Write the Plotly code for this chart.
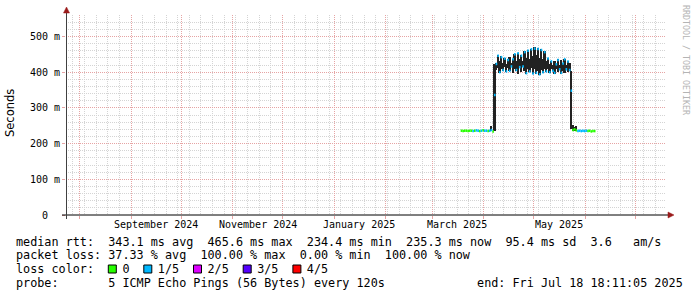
import numpy as np
import pandas as pd
import plotly.graph_objects as go

# ---------------- data (milliseconds) ----------------
dates = pd.date_range("2025-03-18", periods=81, freq="D")

median_low1 = [236, 235, 236, 236, 235, 236, 236, 235, 236, 237,
               236, 235, 236, 237, 236, 236, 235, 236, 238, 234]
class_low1 = [0, 0, 0, 0, 0, 0, 0, 1, 0, 1, 1, 0, 1, 0, 1, 1, 0, 1, 1, 0]

median_high = [423, 446, 400, 442, 406, 438, 402, 434, 404, 416,
               436, 450, 406, 453, 414, 446, 416, 456, 397, 460,
               402, 464, 396, 466, 398, 465, 394, 462, 400, 456,
               402, 438, 400, 430, 404, 398, 422, 434, 408, 398,
               424, 436, 408, 430, 406]
smoke_hi_high = [425, 448, 430, 444, 426, 440, 424, 436, 442, 425,
                 438, 452, 432, 455, 436, 448, 430, 458, 440, 462,
                 438, 466, 445, 471, 448, 468, 440, 464, 436, 458,
                 430, 440, 422, 432, 420, 430, 424, 436, 420, 434,
                 426, 438, 420, 432, 425]
smoke_lo_high = [405, 412, 398, 410, 404, 415, 400, 412, 402, 414,
                 398, 410, 404, 396, 412, 400, 414, 402, 395, 410,
                 400, 412, 394, 408, 396, 404, 392, 406, 398, 410,
                 400, 408, 398, 410, 402, 396, 408, 400, 406, 396,
                 404, 398, 406, 400, 404]
class_high = [1] * 45

median_low2 = [238, 240, 237, 235, 236, 235, 236, 235, 236, 235, 236, 234, 235, 235]
class_low2 = [0, 0, 0, 1, 1, 1, 1, 1, 1, 0, 0, 0, 0, 0]

median_ms = median_low1 + [336] + median_high + [348] + median_low2
loss_class = class_low1 + [1] + class_high + [1] + class_low2
smoke_lo_ms = [None] * 18 + [234, None, 236] + smoke_lo_high + [240, 234, 236, 235] + [None] * 11
smoke_hi_ms = [None] * 18 + [249, None, 422] + smoke_hi_high + [404, 252, 246, 250] + [None] * 11

loss_colors = ["#26ff00", "#00b8ff", "#dd00ff", "#5500ff", "#ff0000"]
loss_labels = ["0", "1/5", "2/5", "3/5", "4/5"]

month_starts = pd.date_range("2024-08-01", "2025-07-01", freq="MS")
label_dates = ["2024-09-16", "2024-11-16", "2025-01-16", "2025-03-16", "2025-05-16"]
label_texts = ["September 2024", "November 2024", "January 2025", "March 2025", "May 2025"]

y_tick_vals = [0, 0.1, 0.2, 0.3, 0.4, 0.5]
y_tick_text = ["0\u00a0\u00a0", "100 m", "200 m", "300 m", "400 m", "500 m"]

stat_rtt = "median rtt:  343.1 ms avg  465.6 ms max  234.4 ms min  235.3 ms now  95.4 ms sd  3.6   am/s"
stat_loss = "packet loss: 37.33 % avg  100.00 % max  0.00 % min  100.00 % now"
probe_text = "probe:       5 ICMP Echo Pings (56 Bytes) every 120s"
end_text = "end: Fri Jul 18 18:11:05 2025"

x_start = "2024-07-23 22:00"
x_end = "2025-07-18 18:11:05"

# ---------------- geometry helpers ----------------
W, H = 697, 297
L, R, T, B = 66, 665, 15, 215
PW, PH = R - L, B - T


def px(x):
    return (x - L) / PW


def py(y):
    return (B - y) / PH


GRID = "#d4d4d4"
MGRID = "#e6a4a4"
ARROW = "#9a1b1b"
MONO = "DejaVu Sans Mono"

fig = go.Figure()

# smoke (per-interval min..max)
lo = np.array([np.nan if v is None else v for v in smoke_lo_ms], dtype=float) / 1000
hi = np.array([np.nan if v is None else v for v in smoke_hi_ms], dtype=float) / 1000
fig.add_trace(go.Bar(x=dates, y=hi - lo, base=lo, width=86400000, offset=0,
                     marker=dict(color="#222222", line=dict(width=0)),
                     hoverinfo="skip"))

# median coloured by loss
day = pd.Timedelta(days=1)
for c, col in enumerate(loss_colors):
    xs, ys = [], []
    for d, m, k in zip(dates, median_ms, loss_class):
        if k == c:
            xs += [d, d + day, None]
            ys += [m / 1000, m / 1000, None]
    if xs:
        fig.add_trace(go.Scatter(x=xs, y=ys, mode="lines", connectgaps=False,
                                 line=dict(color=col, width=2.5), hoverinfo="skip"))

dash = "1px,1px"
fig.update_layout(
    width=W, height=H,
    margin=dict(l=L, r=W - R, t=T, b=H - B, pad=0),
    paper_bgcolor="white", plot_bgcolor="white",
    showlegend=False, bargap=0, barmode="overlay",
    font=dict(family=MONO, size=10, color="black"),
    xaxis=dict(type="date", range=[x_start, x_end], tickmode="array",
               tickvals=list(month_starts), showticklabels=False,
               ticks="outside", ticklen=3, tickcolor=MGRID,
               showgrid=True, gridcolor=MGRID, griddash=dash, gridwidth=1,
               zeroline=False, showline=False, fixedrange=True,
               minor=dict(dtick=7 * 86400000, tick0="2024-07-28", showgrid=True,
                          gridcolor=GRID, griddash=dash, gridwidth=1)),
    yaxis=dict(range=[0, 0.56], tickmode="array", tickvals=y_tick_vals,
               ticktext=y_tick_text, ticks="outside", ticklen=3, tickcolor=MGRID,
               tickfont=dict(family=MONO, size=10, color="black"),
               showgrid=True, gridcolor=MGRID, griddash=dash, gridwidth=1,
               zeroline=False, showline=False, fixedrange=True,
               minor=dict(dtick=0.02, tick0=0, showgrid=True,
                          gridcolor=GRID, griddash=dash, gridwidth=1)),
)

shapes = []
# axes with arrows
shapes.append(dict(type="line", xref="paper", yref="paper", x0=px(62), x1=px(669),
                   y0=py(215), y1=py(215), line=dict(color="black", width=1), layer="above"))
shapes.append(dict(type="line", xref="paper", yref="paper", x0=px(66.5), x1=px(66.5),
                   y0=py(219), y1=py(11), line=dict(color="#404040", width=1), layer="above"))
shapes.append(dict(type="path", xref="paper", yref="paper",
                   path=f"M {px(63.5)} {py(13)} L {px(69.5)} {py(13)} L {px(66.5)} {py(7)} Z",
                   fillcolor=ARROW, line=dict(color=ARROW, width=0.5), layer="above"))
shapes.append(dict(type="path", xref="paper", yref="paper",
                   path=f"M {px(668)} {py(212)} L {px(668)} {py(218)} L {px(674)} {py(215)} Z",
                   fillcolor=ARROW, line=dict(color=ARROW, width=0.5), layer="above"))

annotations = []
# month labels (placed on the date axis)
for d, t in zip(label_dates, label_texts):
    annotations.append(dict(x=d, xref="x", y=py(224), yref="paper", text=t,
                            showarrow=False, xanchor="center", yanchor="middle",
                            font=dict(family=MONO, size=10, color="black"),
                            borderpad=0, borderwidth=0))

# axis title
annotations.append(dict(x=px(10), y=py(113), xref="paper", yref="paper", text="Seconds",
                        textangle=-90, showarrow=False, xanchor="center", yanchor="middle",
                        font=dict(family="DejaVu Sans", size=11.5, color="black")))
# watermark
annotations.append(dict(x=px(686), y=py(60), xref="paper", yref="paper",
                        text="RRDTOOL / TOBI OETIKER", textangle=90, showarrow=False,
                        xanchor="center", yanchor="middle",
                        font=dict(family=MONO, size=8.3, color="#b4b4b4")))

# legend/stat lines
CW = 7.1
FS = CW / 0.60205
X0 = 16


def nb(s):
    return s.replace(" ", "\u00a0")


loss_line = "loss color:  "
square_cols = []
for lab in loss_labels:
    square_cols.append(len(loss_line))
    loss_line += "  " + lab + "  "
loss_line = loss_line.rstrip()

probe_line = probe_text.ljust(65) + end_text

for text, yc in [(stat_rtt, 241.5), (stat_loss, 255), (loss_line, 268.8), (probe_line, 282.5)]:
    annotations.append(dict(x=px(X0), y=py(yc), xref="paper", yref="paper", text=nb(text),
                            showarrow=False, xanchor="left", yanchor="middle",
                            font=dict(family=MONO, size=FS, color="black"),
                            borderpad=0, borderwidth=0))

for col, color in zip(square_cols, loss_colors):
    x0 = X0 + col * CW
    shapes.append(dict(type="rect", xref="paper", yref="paper",
                       x0=px(x0), x1=px(x0 + 8), y0=py(273), y1=py(265),
                       fillcolor=color, line=dict(color="black", width=1), layer="above"))

fig.update_layout(shapes=shapes, annotations=annotations)
fig.write_html("out.html")
